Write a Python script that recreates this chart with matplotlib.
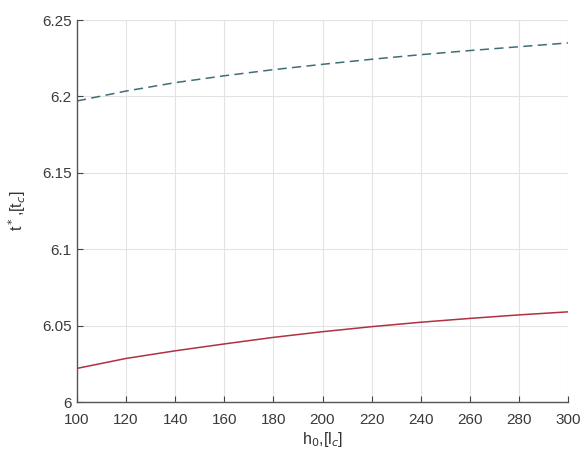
import numpy as np
import matplotlib.pyplot as plt

plt.rcParams['font.family'] = ['Liberation Sans', 'DejaVu Sans']

# values
h0 = [100, 120, 140, 160, 180, 200, 220, 240, 260, 280, 300]
t_upper = [6.197, 6.2035, 6.209, 6.2135, 6.2175, 6.221, 6.2243, 6.2273, 6.230, 6.2325, 6.235]
t_lower = [6.022, 6.0285, 6.0335, 6.038, 6.0423, 6.046, 6.0493, 6.0522, 6.0547, 6.057, 6.059]

xticks = np.arange(100, 301, 20)
yticks = [6, 6.05, 6.1, 6.15, 6.2, 6.25]
yticklabels = ['6', '6.05', '6.1', '6.15', '6.2', '6.25']

fig = plt.figure(figsize=(5.82, 4.57), dpi=100)
ax = fig.add_axes([77/582, 1 - 402/457, (568 - 77)/582, (402 - 20)/457])

ax.plot(h0, t_upper, '--', color='#3f6e74', linewidth=1.1, dashes=(6, 3.5))
ax.plot(h0, t_lower, '-', color='#b0313f', linewidth=1.1)

ax.set_xlim(100, 300)
ax.set_ylim(6, 6.25)
ax.set_xticks(xticks)
ax.set_yticks(yticks)
ax.set_yticklabels(yticklabels)
ax.grid(True, color='#e3e3e3', linewidth=0.8)
ax.set_axisbelow(True)
ax.tick_params(direction='in', length=4, color='#444444', labelsize=11,
               labelcolor='#3a3a3a')
ax.tick_params(axis='x', pad=8)
ax.tick_params(axis='y', pad=4)
ax.spines['top'].set_visible(False)
ax.spines['right'].set_visible(False)
for s in ('left', 'bottom'):
    ax.spines[s].set_color('#555555')
    ax.spines[s].set_linewidth(1.0)

ax.set_xlabel(r'h$_0$,[l$_c$]', fontsize=11.5, color='#333333', labelpad=2)
ax.set_ylabel(r't$^*$,[t$_c$]', fontsize=11.5, color='#333333', labelpad=10)

fig.savefig('out.png', dpi=100)
